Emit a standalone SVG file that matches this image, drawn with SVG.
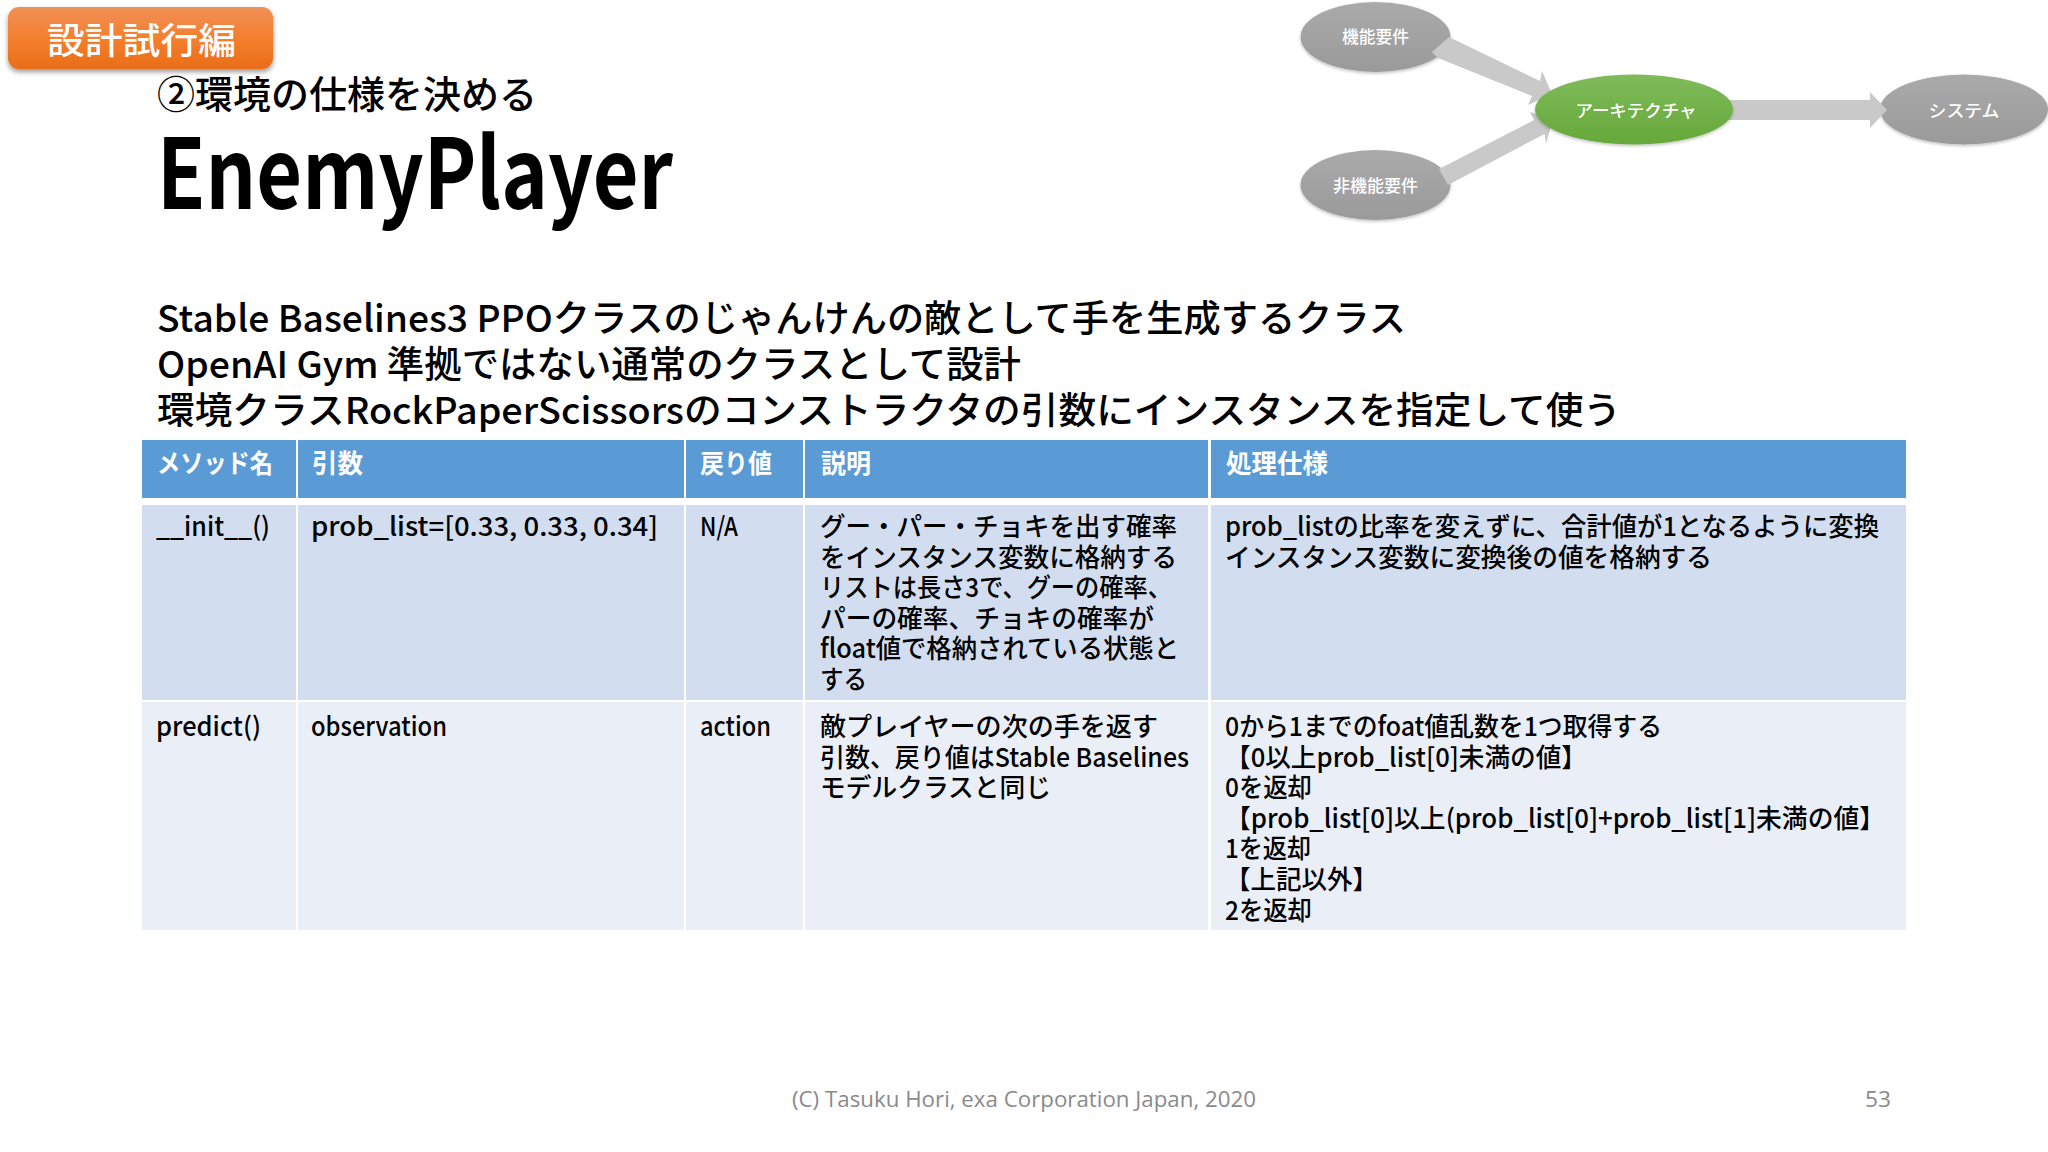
<svg xmlns="http://www.w3.org/2000/svg" width="2048" height="1152" viewBox="0 0 2048 1152">
<style>
text{font-family:"Noto Sans CJK JP","Noto Sans",sans-serif;fill:#000}
.c{font-size:26px;font-weight:500}
.h{font-size:26px;font-weight:700;fill:#fff}
.b{font-size:37px;font-weight:500}
.n{font-size:17px;font-weight:500;fill:#fff;text-anchor:middle}
.f{font-family:"Open Sans",sans-serif;font-size:22px;fill:#8a8a8a}
.hd{fill:#5b9bd5}.r1{fill:#d2deef}.r2{fill:#eaeff7}
.ar{fill:#c9c9c9}
</style>
<defs>
<linearGradient id="og" x1="0" y1="0" x2="0" y2="1"><stop offset="0" stop-color="#f09058"/><stop offset=".5" stop-color="#f47f2e"/><stop offset="1" stop-color="#e96d18"/></linearGradient>
<linearGradient id="gg" x1="0" y1="0" x2="0" y2="1"><stop offset="0" stop-color="#aaaaaa"/><stop offset="1" stop-color="#9a9a9a"/></linearGradient>
<linearGradient id="gr" x1="0" y1="0" x2="0" y2="1"><stop offset="0" stop-color="#7fbb5a"/><stop offset="1" stop-color="#66a83a"/></linearGradient>
<filter id="sh" x="-10%" y="-20%" width="120%" height="150%"><feDropShadow dx="0" dy="3" stdDeviation="2.5" flood-color="#000" flood-opacity=".4"/></filter>
<filter id="sl" x="-10%" y="-20%" width="120%" height="150%"><feDropShadow dx="0" dy="1.5" stdDeviation="1.5" flood-color="#000" flood-opacity=".25"/></filter>
</defs>
<rect width="2048" height="1152" fill="#fff"/>

<g id="badge">
<rect x="8" y="7" width="265" height="62" rx="11" fill="url(#og)" filter="url(#sh)"/>
<text x="47" y="54" font-size="36" font-weight="500" style="fill:#fff" textLength="189" lengthAdjust="spacingAndGlyphs">設計試行編</text>
</g>
<g id="title">
<text x="157" y="108" font-size="38" font-weight="500" textLength="380" lengthAdjust="spacingAndGlyphs">②環境の仕様を決める</text>
<text x="157" y="209" font-size="97" font-weight="700" textLength="516" lengthAdjust="spacingAndGlyphs">EnemyPlayer</text>
</g>

<g id="node-functional"><ellipse cx="1375.5" cy="37" rx="75" ry="35" fill="url(#gg)" filter="url(#sl)"/><text class="n" x="1375.5" y="43" textLength="67" lengthAdjust="spacingAndGlyphs">機能要件</text></g>
<g id="node-nonfunctional"><ellipse cx="1375.5" cy="185" rx="75" ry="35" fill="url(#gg)" filter="url(#sl)"/><text class="n" x="1375.5" y="192" textLength="85" lengthAdjust="spacingAndGlyphs">非機能要件</text></g>
<g id="node-system"><ellipse cx="1964" cy="109.5" rx="84" ry="35" fill="url(#gg)" filter="url(#sl)"/><text class="n" x="1964" y="117" textLength="71" lengthAdjust="spacingAndGlyphs">システム</text></g>
<g id="connectors">
<polygon class="ar" points="1449,37 1540,81 1542,71 1552,94 1528,105 1532,96 1438,58 1432,52"/>
<polygon class="ar" points="1439,169 1534,120 1530,112 1553,119 1546,144 1544.5,134 1448,185"/>
<polygon class="ar" points="1728,100 1870,100 1870,92 1887,110 1870,128 1870,120 1728,120"/>
</g>
<g id="node-architecture"><ellipse cx="1634" cy="109.5" rx="99" ry="35" fill="url(#gr)" filter="url(#sl)"/><text class="n" x="1636" y="117" textLength="121" lengthAdjust="spacingAndGlyphs">アーキテクチャ</text></g>

<g id="body">
<text class="b" x="157" y="332" textLength="1249" lengthAdjust="spacingAndGlyphs">Stable Baselines3 PPOクラスのじゃんけんの敵として手を生成するクラス</text>
<text class="b" x="157" y="378" textLength="864" lengthAdjust="spacingAndGlyphs">OpenAI Gym 準拠ではない通常のクラスとして設計</text>
<text class="b" x="157" y="424" textLength="1464" lengthAdjust="spacingAndGlyphs">環境クラスRockPaperScissorsのコンストラクタの引数にインスタンスを指定して使う</text>
</g>

<g id="table">
<rect class="hd" x="142" y="440" width="154" height="58"/><rect class="hd" x="298" y="440" width="386" height="58"/><rect class="hd" x="686" y="440" width="117" height="58"/><rect class="hd" x="805" y="440" width="403" height="58"/><rect class="hd" x="1211" y="440" width="695" height="58"/>
<rect class="r1" x="142" y="505" width="154" height="195"/><rect class="r1" x="298" y="505" width="386" height="195"/><rect class="r1" x="686" y="505" width="117" height="195"/><rect class="r1" x="805" y="505" width="403" height="195"/><rect class="r1" x="1211" y="505" width="695" height="195"/>
<rect class="r2" x="142" y="702" width="154" height="228"/><rect class="r2" x="298" y="702" width="386" height="228"/><rect class="r2" x="686" y="702" width="117" height="228"/><rect class="r2" x="805" y="702" width="403" height="228"/><rect class="r2" x="1211" y="702" width="695" height="228"/>

<text class="h" x="157" y="473" textLength="116" lengthAdjust="spacingAndGlyphs">メソッド名</text>
<text class="h" x="312" y="473" textLength="51" lengthAdjust="spacingAndGlyphs">引数</text>
<text class="h" x="700" y="473" textLength="72" lengthAdjust="spacingAndGlyphs">戻り値</text>
<text class="h" x="821" y="473" textLength="50" lengthAdjust="spacingAndGlyphs">説明</text>
<text class="h" x="1226" y="473" textLength="102" lengthAdjust="spacingAndGlyphs">処理仕様</text>

<text class="c" x="156" y="536" textLength="114" lengthAdjust="spacingAndGlyphs">__init__()</text>
<text class="c" x="311" y="536" textLength="347" lengthAdjust="spacingAndGlyphs">prob_list=[0.33, 0.33, 0.34]</text>
<text class="c" x="700" y="536" textLength="38" lengthAdjust="spacingAndGlyphs">N/A</text>
<text class="c" x="820" y="536" textLength="357" lengthAdjust="spacingAndGlyphs">グー・パー・チョキを出す確率</text>
<text class="c" x="820" y="567" textLength="357" lengthAdjust="spacingAndGlyphs">をインスタンス変数に格納する</text>
<text class="c" x="820" y="597" textLength="352" lengthAdjust="spacingAndGlyphs">リストは長さ3で、グーの確率、</text>
<text class="c" x="820" y="628" textLength="334" lengthAdjust="spacingAndGlyphs">パーの確率、チョキの確率が</text>
<text class="c" x="820" y="658" textLength="359" lengthAdjust="spacingAndGlyphs">float値で格納されている状態と</text>
<text class="c" x="820" y="689" textLength="47" lengthAdjust="spacingAndGlyphs">する</text>
<text class="c" x="1225" y="536" textLength="654" lengthAdjust="spacingAndGlyphs">prob_listの比率を変えずに、合計値が1となるように変換</text>
<text class="c" x="1225" y="567" textLength="487" lengthAdjust="spacingAndGlyphs">インスタンス変数に変換後の値を格納する</text>

<text class="c" x="156" y="736" textLength="105" lengthAdjust="spacingAndGlyphs">predict()</text>
<text class="c" x="311" y="736" textLength="136" lengthAdjust="spacingAndGlyphs">observation</text>
<text class="c" x="700" y="736" textLength="71" lengthAdjust="spacingAndGlyphs">action</text>
<text class="c" x="820" y="736" textLength="338" lengthAdjust="spacingAndGlyphs">敵プレイヤーの次の手を返す</text>
<text class="c" x="820" y="767" textLength="369" lengthAdjust="spacingAndGlyphs">引数、戻り値はStable Baselines</text>
<text class="c" x="820" y="797" textLength="231" lengthAdjust="spacingAndGlyphs">モデルクラスと同じ</text>
<text class="c" x="1225" y="736" textLength="437" lengthAdjust="spacingAndGlyphs">0から1までのfoat値乱数を1つ取得する</text>
<text class="c" x="1225" y="767" textLength="362" lengthAdjust="spacingAndGlyphs">【0以上prob_list[0]未満の値】</text>
<text class="c" x="1225" y="797" textLength="87" lengthAdjust="spacingAndGlyphs">0を返却</text>
<text class="c" x="1225" y="828" textLength="660" lengthAdjust="spacingAndGlyphs">【prob_list[0]以上(prob_list[0]+prob_list[1]未満の値】</text>
<text class="c" x="1225" y="858" textLength="86" lengthAdjust="spacingAndGlyphs">1を返却</text>
<text class="c" x="1225" y="889" textLength="153" lengthAdjust="spacingAndGlyphs">【上記以外】</text>
<text class="c" x="1225" y="920" textLength="87" lengthAdjust="spacingAndGlyphs">2を返却</text>
</g>

<g id="footer">
<text class="f" x="792" y="1107" textLength="464" lengthAdjust="spacingAndGlyphs">(C) Tasuku Hori, exa Corporation Japan, 2020</text>
<text class="f" x="1865" y="1107" textLength="26" lengthAdjust="spacingAndGlyphs">53</text>
</g>
</svg>
